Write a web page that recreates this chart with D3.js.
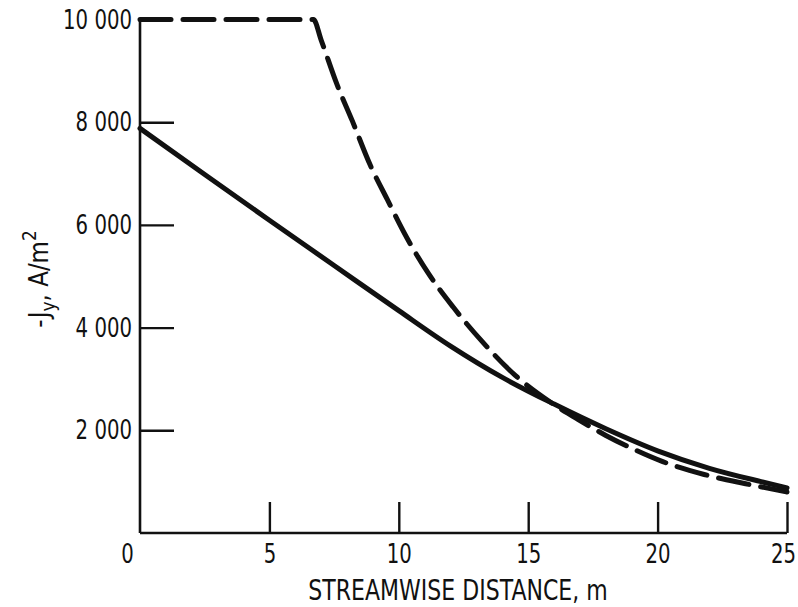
<!DOCTYPE html>
<html>
<head>
<meta charset="utf-8">
<script src="https://cdn.jsdelivr.net/npm/d3@7"></script>
<style>
  body { margin: 0; background: #fff; }
  text { font-family: "DejaVu Sans", sans-serif; fill: #111; }
</style>
</head>
<body>
<div id="chart"></div>
<script>
// values
var xTicks = [0, 5, 10, 15, 20, 25];
var yTicks = [2000, 4000, 6000, 8000, 10000];

// solid curve
var solidX = [0, 2.5, 5, 7.5, 10, 12, 14, 16, 18, 20, 22, 24, 25];
var solidY = [7880, 6980, 6090, 5210, 4330, 3640, 3030, 2510, 2030, 1600, 1260, 1000, 880];

// dashed curve (capped at 10 000)
var dashX = [0, 6.7, 7.0, 7.6, 8.2, 8.9, 9.55, 10.3, 11.15, 12.1, 13.2, 14.5, 15.85, 17, 18, 19, 20.2, 21.8, 23.4, 25];
var dashY = [10000, 10000, 9600, 8750, 8030, 7160, 6500, 5760, 5050, 4400, 3740, 3070, 2550, 2190, 1900, 1650, 1390, 1140, 960, 800];

var width = 798;
var height = 607;

var svg = d3.select("#chart")
    .append("svg")
    .attr("width", width)
    .attr("height", height);

var x = d3.scaleLinear().domain([0, 25]).range([140, 787]);
var y = d3.scaleLinear().domain([0, 10000]).range([533, 19.5]);

// "10 000" style thousands
var fmt = d3.formatLocale({ decimal: ".", thousands: " ", grouping: [3], currency: ["", ""] }).format(",d");

var K = 0.73; // horizontal squeeze, the scan uses a condensed face

// y axis, ticks point inward
var yAxis = svg.append("g")
    .attr("transform", "translate(" + x(0) + ",0)")
    .call(d3.axisLeft(y).tickValues(yTicks).tickFormat(fmt).tickSize(-34).tickPadding(8));

// x axis
var xAxis = svg.append("g")
    .attr("transform", "translate(0," + y(0) + ")")
    .call(d3.axisBottom(x).tickValues(xTicks).tickSize(-31).tickPadding(11));

[yAxis, xAxis].forEach(function (g) {
    g.attr("font-family", null);
    g.select(".domain").attr("stroke", "#111").attr("stroke-width", 2.6);
    g.selectAll(".tick line").attr("stroke", "#111").attr("stroke-width", 2.4);
    g.selectAll(".tick text")
        .attr("font-size", 27)
        .attr("fill", "#111")
        .attr("x", function () { return (+d3.select(this).attr("x") || 0) / K; })
        .attr("transform", "scale(" + K + ",1)");
});
yAxis.select(".domain").attr("d", "M0," + y(0) + "V" + y(10000));
xAxis.select(".domain").attr("d", "M" + x(0) + ",0H" + x(25));
// the 0 on the x axis sits a bit left in the original
xAxis.selectAll(".tick text").filter(function (d) { return d === 0; }).attr("dx", -13 / K);
xAxis.selectAll(".tick text").filter(function (d) { return d === 25; }).attr("dx", -4 / K);
xAxis.selectAll(".tick line").filter(function (d) { return d === 0; }).remove();
yAxis.selectAll(".tick line").filter(function (d) { return d === 10000; }).remove();

var line = d3.line()
    .x(function (d) { return x(d[0]); })
    .y(function (d) { return y(d[1]); })
    .curve(d3.curveMonotoneX);

var solid = d3.zip(solidX, solidY);
var dashed = d3.zip(dashX, dashY);

svg.append("path")
    .datum(solid)
    .attr("fill", "none")
    .attr("stroke", "#111")
    .attr("stroke-width", 5)
    .attr("stroke-linecap", "round")
    .attr("d", line);

svg.append("path")
    .datum(dashed)
    .attr("fill", "none")
    .attr("stroke", "#111")
    .attr("stroke-width", 5)
    .attr("stroke-linecap", "round")
    .attr("stroke-dasharray", "31,12")
    .attr("d", line);

// axis titles
svg.append("text")
    .attr("transform", "translate(458,600) scale(0.76,1)")
    .attr("text-anchor", "middle")
    .attr("font-size", 29)
    .text("STREAMWISE DISTANCE,  m");

var yl = svg.append("text")
    .attr("transform", "translate(48,279) rotate(-90) scale(0.85,1)")
    .attr("text-anchor", "middle")
    .attr("font-size", 27);
yl.append("tspan").text("-J");
yl.append("tspan").attr("font-size", 20).attr("dy", 7).text("y");
yl.append("tspan").attr("dy", -7).text(",  A/m");
yl.append("tspan").attr("font-size", 20).attr("dy", -12).text("2");
</script>
</body>
</html>
